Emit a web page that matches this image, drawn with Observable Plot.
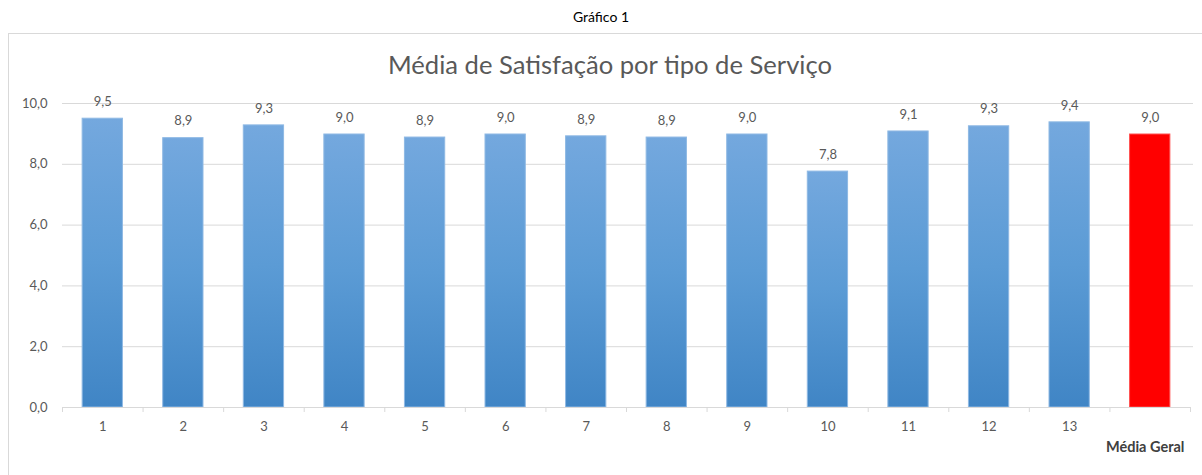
<!DOCTYPE html>
<html>
<head>
<meta charset="utf-8">
<script src="https://cdn.jsdelivr.net/npm/d3@7"></script>
<script src="https://cdn.jsdelivr.net/npm/@observablehq/plot@0.6"></script>
<style>
  html, body { margin: 0; padding: 0; background: #fff; width: 1202px; height: 475px; overflow: hidden; position: relative; }
  body { font-family: Lato, "Open Sans", sans-serif; }
  #pagetitle { position: absolute; left: 0; top: 8px; width: 1202px; text-align: center; font-size: 14px; color: #000; }
  #frame { position: absolute; left: 8px; top: 33px; width: 1200px; height: 460px; border: 1px solid #d9d9d9; box-sizing: border-box; }
  #title { position: absolute; left: 0; top: 49px; width: 1220px; text-align: center; font-size: 25.6px; color: #595959; }
  #chart { position: absolute; left: 0; top: 80px; }
</style>
</head>
<body>
<div id="pagetitle">Gráfico 1</div>
<div id="frame"></div>
<div id="title">Média de Satisfação por tipo de Serviço</div>
<div id="chart"></div>
<script>
const categories = ["1","2","3","4","5","6","7","8","9","10","11","12","13","Média Geral"];
const values = [9.5, 8.86, 9.28, 8.98, 8.88, 8.98, 8.92, 8.88, 8.98, 7.76, 9.08, 9.25, 9.38, 8.98];
const yTicks = [0, 2, 4, 6, 8, 10];

const data = categories.map((c, i) => ({cat: c, value: values[i], isAvg: c === "Média Geral"}));
const fmt = v => v.toFixed(1).replace(".", ",");

const width = 1202, height = 390;
const mL = 62, mR = 12, mT = 23, mB = 63;
const step = (width - mL - mR) / categories.length;
const tickLen = 5 / ((height - mT - mB) / 10);

const plot = Plot.plot({
  width, height,
  marginLeft: mL, marginRight: mR, marginTop: mT, marginBottom: mB,
  style: {fontFamily: "Lato, 'Open Sans', sans-serif", fontSize: "13px", color: "#595959", background: "transparent"},
  x: {domain: categories, paddingInner: 0.5, paddingOuter: 0.25, round: false, axis: null},
  y: {domain: [0, 10], axis: null},
  marks: [
    Plot.ruleY(yTicks.filter(d => d > 0), {stroke: "#d9d9d9", strokeWidth: 1, insetRight: -3}),
    Plot.barY(data.filter(d => !d.isAvg), {x: "cat", y: "value", fill: "url(#barGrad)", stroke: "#8fb9e4", strokeWidth: 1}),
    Plot.barY(data.filter(d => d.isAvg), {x: "cat", y: "value", fill: "#ff0000", stroke: "#ff5050", strokeWidth: 1}),
    Plot.ruleY([0], {stroke: "#d9d9d9", strokeWidth: 1}),
    Plot.ruleX(categories, {x: d => d, y1: 0, y2: -tickLen, dx: -step / 2, stroke: "#d9d9d9"}),
    Plot.ruleX(categories.slice(-1), {x: d => d, y1: 0, y2: -tickLen, dx: step / 2, stroke: "#d9d9d9"}),
    Plot.text(data, {x: "cat", y: "value", text: d => fmt(d.value), dy: -17, fill: "#595959", fontSize: 13}),
    Plot.text(yTicks, {x: () => categories[0], y: d => d, text: d => fmt(d), dx: -step / 2 - 15, textAnchor: "end", fill: "#595959", fontSize: 13}),
    Plot.text(categories.slice(0, -1), {x: d => d, y: () => 0, text: d => d, dy: 19, fill: "#595959", fontSize: 13}),
    Plot.text(categories.slice(-1), {x: d => d, y: () => 0, text: d => d, dy: 40, dx: -5, fill: "#404040", fontSize: 14.5, fontWeight: "bold"})
  ]
});

d3.select(plot).insert("defs", ":first-child").html(
  `<linearGradient id="barGrad" x1="0" y1="0" x2="0" y2="1">
     <stop offset="0" stop-color="#74a8de"/>
     <stop offset="0.5" stop-color="#5b9bd5"/>
     <stop offset="1" stop-color="#4085c5"/>
   </linearGradient>`
);

document.getElementById("chart").appendChild(plot);
</script>
</body>
</html>
